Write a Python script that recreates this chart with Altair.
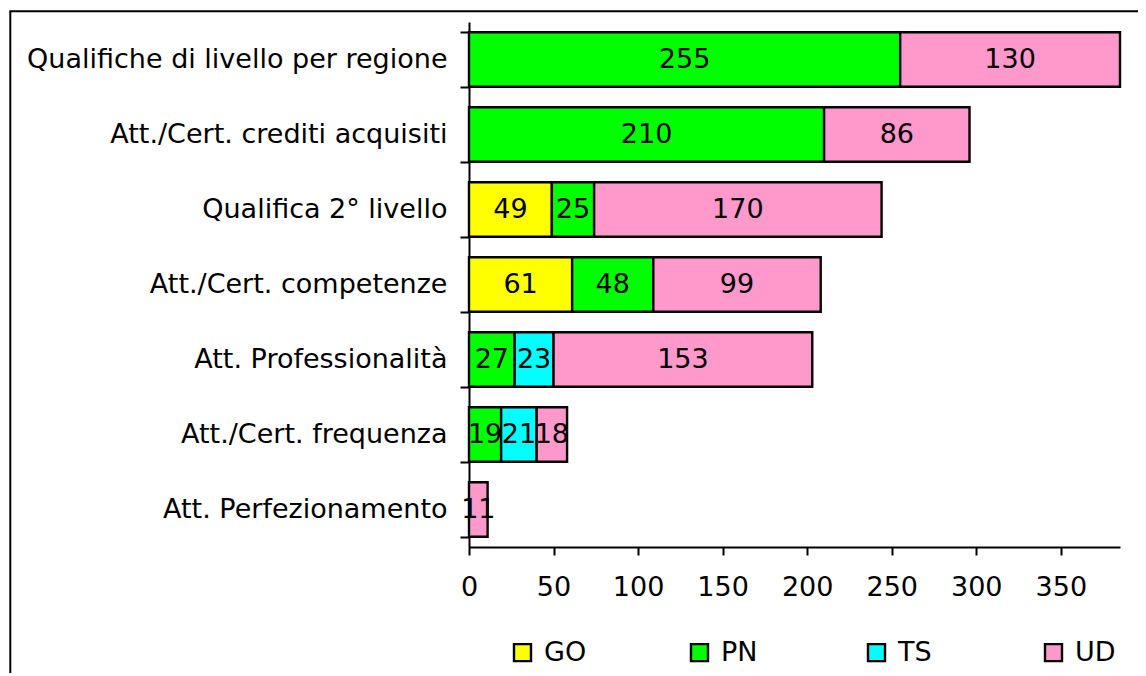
import altair as alt
import pandas as pd

categories = [
    "Qualifiche di livello per regione",
    "Att./Cert. crediti acquisiti",
    "Qualifica 2° livello",
    "Att./Cert. competenze",
    "Att. Professionalità",
    "Att./Cert. frequenza",
    "Att. Perfezionamento",
]
series = ["GO", "PN", "TS", "UD"]
go_values = [0, 0, 49, 61, 0, 0, 0]
pn_values = [255, 210, 25, 48, 27, 19, 0]
ts_values = [0, 0, 0, 0, 23, 21, 0]
ud_values = [130, 86, 170, 99, 153, 18, 11]
colors = ["#FFFF00", "#00FF00", "#00FFFF", "#FF99CC"]
x_ticks = [0, 50, 100, 150, 200, 250, 300, 350]
x_max = 385

rows = []
for s_i, (s, vals) in enumerate(zip(series, [go_values, pn_values, ts_values, ud_values])):
    for c, v in zip(categories, vals):
        if v > 0:
            rows.append({"cat": c, "serie": s, "ord": s_i, "v": v})
df = pd.DataFrame(rows)

FONT = "DejaVu Sans"
FS = 27

base = alt.Chart(df).transform_stack(
    stack="v",
    groupby=["cat"],
    sort=[alt.SortField("ord", order="ascending")],
    as_=["x0", "x1"],
).transform_calculate(mid="(datum.x0 + datum.x1) / 2")

y_enc = alt.Y(
    "cat:N",
    sort=categories,
    title=None,
    scale=alt.Scale(paddingInner=0.274, paddingOuter=0.137),
    axis=alt.Axis(
        tickBand="extent",
        labelFont=FONT,
        labelFontSize=FS,
        labelColor="black",
        labelPadding=13,
        labelLimit=700,
        domainColor="black",
        domainWidth=2,
        tickColor="black",
        tickWidth=2,
        tickSize=9,
        grid=False,
    ),
)

bars = base.mark_bar(stroke="black", strokeWidth=2.4).encode(
    x=alt.X(
        "x0:Q",
        scale=alt.Scale(domain=[0, x_max], nice=False, zero=True),
        title=None,
        axis=alt.Axis(
            values=x_ticks,
            labelFont=FONT,
            labelFontSize=FS,
            labelColor="black",
            labelPadding=19,
            labelFlush=False,
            domainColor="black",
            domainWidth=2,
            tickColor="black",
            tickWidth=2,
            tickSize=8,
            grid=False,
        ),
    ),
    x2="x1:Q",
    y=y_enc,
    color=alt.Color(
        "serie:N",
        scale=alt.Scale(domain=series, range=colors),
        legend=alt.Legend(
            title=None,
            orient="none",
            legendX=40,
            legendY=617,
            direction="horizontal",
            columns=4,
            gridAlign="all",
            columnPadding=99,
            symbolType="square",
            symbolSize=289,
            symbolStrokeColor="black",
            symbolStrokeWidth=2.4,
            symbolOpacity=1,
            labelFont=FONT,
            labelFontSize=FS,
            labelColor="black",
            labelOffset=8,
        ),
    ),
)

texts = base.mark_text(font=FONT, fontSize=FS, color="black", baseline="middle", align="center").encode(
    x="mid:Q",
    y=y_enc,
    text="v:Q",
)

frame_df = pd.DataFrame({"f": [0]})
frame_left = alt.Chart(frame_df).mark_rule(color="black", strokeWidth=2).encode(
    x=alt.value(-458.7), y=alt.value(-10.7), y2=alt.value(700)
)
frame_top = alt.Chart(frame_df).mark_rule(color="black", strokeWidth=2).encode(
    x=alt.value(-459.7), x2=alt.value(700), y=alt.value(-10.7)
)

chart = alt.layer(bars, texts, frame_left, frame_top).properties(
    width=651,
    height=525,
    padding={"left": 461, "top": 14, "right": 18, "bottom": 126},
    autosize=alt.AutoSizeParams(type="none"),
).configure_view(strokeWidth=0)

chart.save("out.html", embed_options={"renderer": "svg", "actions": False})
